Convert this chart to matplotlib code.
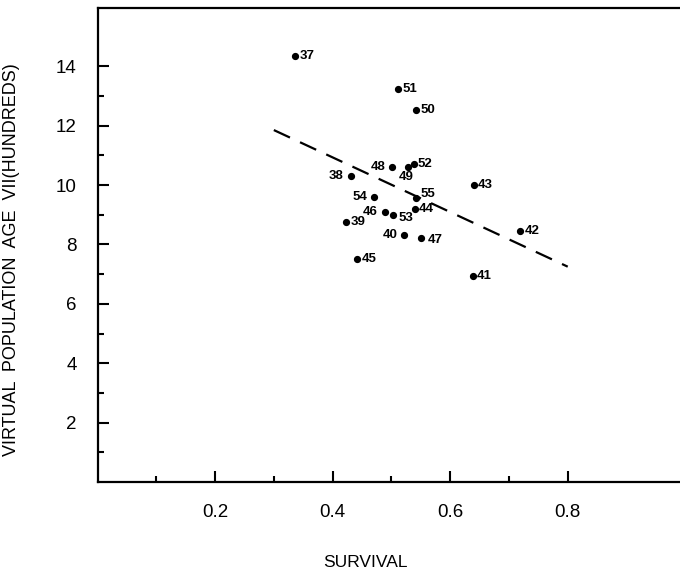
import matplotlib
matplotlib.use("Agg")
import matplotlib.pyplot as plt
from matplotlib.ticker import FixedLocator

plt.rcParams["font.family"] = ["Liberation Sans", "DejaVu Sans"]

# year labels, survival (x) and virtual population age VII in hundreds (y)
years = ["37", "38", "39", "40", "41", "42", "43", "44", "45", "46",
         "47", "48", "49", "50", "51", "52", "53", "54", "55"]
survival = [0.336, 0.431, 0.423, 0.522, 0.638, 0.719, 0.640, 0.540, 0.442, 0.489,
            0.550, 0.501, 0.528, 0.542, 0.512, 0.538, 0.502, 0.471, 0.542]
population = [14.35, 10.31, 8.75, 8.31, 6.93, 8.44, 10.00, 9.19, 7.51, 9.10,
              8.23, 10.60, 10.60, 12.51, 13.24, 10.70, 8.99, 9.59, 9.57]

# fitted regression line end points
fit_x = [0.3, 0.8]
fit_y = [11.85, 7.25]

# where each year label sits relative to its point (offset in points)
label_pos = {
    "38": (-5, 0, "right", "center"),
    "40": (-5, 0, "right", "center"),
    "46": (-5, 0, "right", "center"),
    "48": (-5, 0, "right", "center"),
    "54": (-5, 0, "right", "center"),
    "49": (-1, -3, "center", "top"),
    "55": (3, 3, "left", "center"),
    "53": (4, -2, "left", "center"),
    "47": (5, -2, "left", "center"),
}

fig = plt.figure(figsize=(6.8, 5.73), dpi=100)
ax = fig.add_axes([97.5 / 680, 91 / 573, 582.5 / 680, 474 / 573])

ax.plot(survival, population, "o", color="black", markersize=4.2)
ax.plot(fit_x, fit_y, color="black", linewidth=1.6, dashes=(8, 5))

for yr, sx, py in zip(years, survival, population):
    dx, dy, ha, va = label_pos.get(yr, (3, 0, "left", "center"))
    ax.annotate(yr, (sx, py), xytext=(dx, dy), textcoords="offset points",
                ha=ha, va=va, fontsize=9.5, fontweight="bold")

ax.set_xlim(0, 0.991)
ax.set_ylim(0, 15.96)

ax.xaxis.set_major_locator(FixedLocator([0.2, 0.4, 0.6, 0.8]))
ax.xaxis.set_minor_locator(FixedLocator([0.1, 0.3, 0.5, 0.7]))
ax.yaxis.set_major_locator(FixedLocator([2, 4, 6, 8, 10, 12, 14]))
ax.yaxis.set_minor_locator(FixedLocator([1, 3, 5, 7, 9, 11, 13]))
ax.set_xticklabels(["0.2", "0.4", "0.6", "0.8"])

ax.tick_params(which="both", direction="in", width=1.5, labelsize=13.5)
ax.tick_params(which="major", length=8)
ax.tick_params(which="minor", length=4.5)
ax.tick_params(axis="x", which="both", top=False, pad=16)
ax.tick_params(axis="y", which="both", right=False, pad=15)

ax.spines["right"].set_visible(False)
for side in ["left", "bottom", "top"]:
    ax.spines[side].set_linewidth(1.6)

ax.set_xlabel("SURVIVAL", fontsize=12.5)
ax.xaxis.set_label_coords((365 - 97.5) / 582.5, -(555 - 482) / 474, transform=ax.transAxes)
ax.set_ylabel("VIRTUAL  POPULATION  AGE  VII(HUNDREDS)", fontsize=13)
ax.yaxis.set_label_coords(-(97.5 - 20) / 582.5, (482 - 260) / 474, transform=ax.transAxes)

fig.savefig("out.png", dpi=100)
